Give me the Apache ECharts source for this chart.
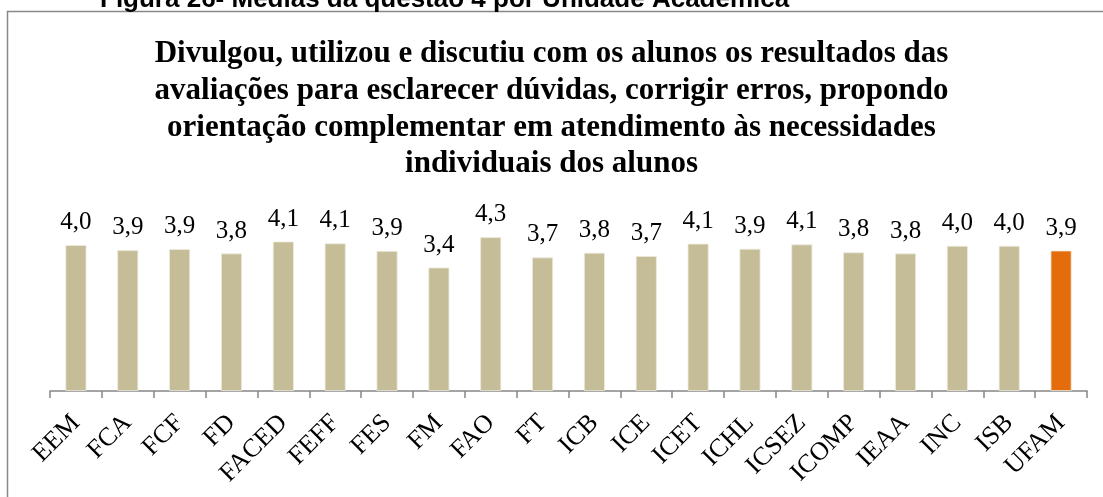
<!DOCTYPE html>
<html>
<head>
<meta charset="utf-8">
<script src="https://cdn.jsdelivr.net/npm/echarts@6/dist/echarts.min.js"></script>
<style>
  html, body { margin: 0; padding: 0; background: #fff; }
  #chart { width: 1103px; height: 497px; }
</style>
</head>
<body>
<div id="chart"></div>
<script>
// unidades acadêmicas
var unidades = ['EEM', 'FCA', 'FCF', 'FD', 'FACED', 'FEFF', 'FES', 'FM', 'FAO', 'FT',
  'ICB', 'ICE', 'ICET', 'ICHL', 'ICSEZ', 'ICOMP', 'IEAA', 'INC', 'ISB', 'UFAM'];
// médias da questão 4
var medias = [4.04, 3.90, 3.93, 3.81, 4.14, 4.09, 3.88, 3.42, 4.26, 3.70,
  3.83, 3.74, 4.08, 3.94, 4.06, 3.84, 3.81, 4.02, 4.02, 3.89];

var corBarra = '#C4BD97';
var corUfam = '#E46C0A';

var chartTitle = 'Divulgou, utilizou e discutiu com os alunos os resultados das\n' +
  'avaliações para esclarecer dúvidas, corrigir erros, propondo\n' +
  'orientação complementar em atendimento às necessidades\n' +
  'individuais dos alunos';

var myChart = echarts.init(document.getElementById('chart'));

var option = {
  backgroundColor: '#fff',
  animation: false,
  title: {
    text: chartTitle,
    left: 'center',
    top: 31,
    textStyle: {
      fontFamily: 'Liberation Serif',
      fontWeight: 'bold',
      fontSize: 31,
      lineHeight: 36.7,
      color: '#000'
    }
  },
  graphic: [
    {
      type: 'text',
      silent: true,
      x: 100,
      y: 13,
      style: {
        text: 'Figura 26- Médias da questão 4 por Unidade Acadêmica',
        fontFamily: 'Liberation Sans',
        fontWeight: 'bold',
        fontSize: 26,
        verticalAlign: 'bottom',
        fill: '#000'
      }
    },
    {
      type: 'rect',
      silent: true,
      shape: { x: 7.5, y: 11.5, width: 1200, height: 600 },
      style: { fill: '#fff', stroke: '#888', lineWidth: 1.5 },
      z: -10
    }
  ],
  grid: {
    left: 50,
    right: 16,
    top: 210.5,
    bottom: 106
  },
  xAxis: {
    type: 'category',
    data: unidades,
    axisLine: { show: true, lineStyle: { color: '#868686', width: 1.5 } },
    axisTick: { show: true, length: 7, lineStyle: { color: '#868686', width: 1.5 } },
    axisLabel: {
      interval: 0,
      rotate: 45,
      margin: 28,
      fontFamily: 'Liberation Serif',
      fontSize: 26,
      color: '#000'
    }
  },
  yAxis: {
    type: 'value',
    min: 0,
    max: 5,
    show: false
  },
  series: [
    {
      type: 'bar',
      barWidth: 21,
      data: medias.map(function (v, i) {
        return {
          value: v,
          itemStyle: { color: unidades[i] === 'UFAM' ? corUfam : corBarra }
        };
      }),
      itemStyle: { borderColor: '#EEEBDD', borderWidth: 0.8 },
      label: {
        show: true,
        position: 'top',
        distance: 10,
        fontFamily: 'Liberation Serif',
        fontSize: 25,
        color: '#000',
        formatter: function (p) {
          return p.value.toFixed(1).replace('.', ',');
        }
      }
    }
  ]
};

myChart.setOption(option);
window.addEventListener('resize', function () {
  myChart.resize();
});
</script>
</body>
</html>
